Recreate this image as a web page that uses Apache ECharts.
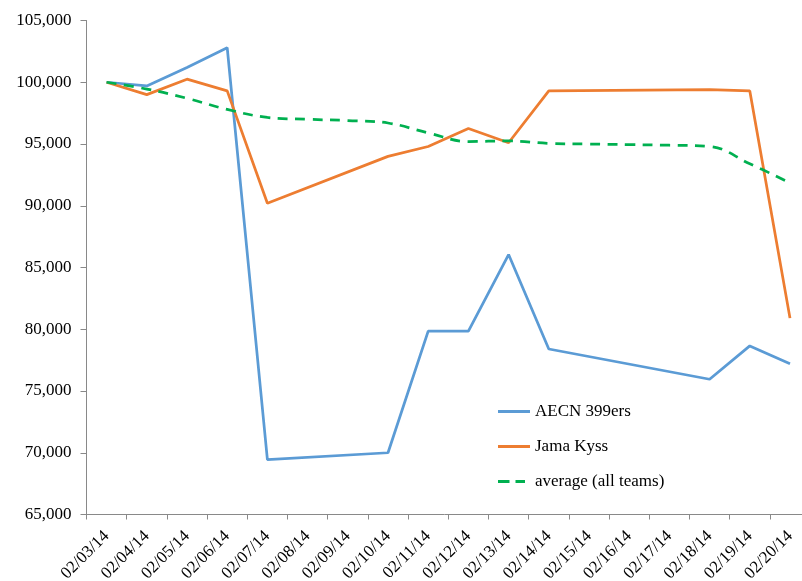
<!DOCTYPE html>
<html>
<head>
<meta charset="utf-8">
<script src="https://cdn.jsdelivr.net/npm/echarts@6/dist/echarts.min.js"></script>
<style>
  html, body { margin: 0; padding: 0; background: #fff; overflow: hidden; }
  #chart { width: 802px; height: 581px; }
</style>
</head>
<body>
<div id="chart"></div>
<script>
// Daily portfolio values, Feb 3 - Feb 20, 2014
const dates = ['02/03/14', '02/04/14', '02/05/14', '02/06/14', '02/07/14', '02/08/14',
  '02/09/14', '02/10/14', '02/11/14', '02/12/14', '02/13/14', '02/14/14', '02/15/14',
  '02/16/14', '02/17/14', '02/18/14', '02/19/14', '02/20/14'];

// null = no value recorded that day (line is carried straight across)
const aecn = [100000, 99700, 101200, 102800, 69450, null, null, 70000, 79850, 79850,
  86050, 78400, null, null, null, 75950, 78650, 77200];
const jama = [100000, 99000, 100250, 99300, 90200, null, null, 94000, 94800, 96250,
  95100, 99300, null, null, null, 99400, 99300, 80900];
const average = [100000, 99450, 98700, 97800, 97150, 97000, 96900, 96700, 95900, 95200,
  95250, 95050, 95000, 94950, 94900, 94800, 93400, 91850];

const seriesNames = ['AECN 399ers', 'Jama Kyss', 'average (all teams)'];
const yTicks = { min: 65000, max: 105000, step: 5000 };

const FONT = '"Liberation Serif", "Times New Roman", serif';
const AXIS_GRAY = '#898989';

// legend keys: plain stroke for the team lines, two dashes for the average
const SOLID_KEY = 'path://M0,0h32v3h-32z';
const DASH_KEY = 'path://M0,0h11.5v3h-11.5z M17.5,0h9.5v3h-9.5z M32,0L32,3';

const chart = echarts.init(document.getElementById('chart'), null, { renderer: 'canvas' });

chart.setOption({
  animation: false,
  backgroundColor: '#ffffff',
  // the plot area runs a little past the right edge of the canvas
  grid: {
    left: 86.5, top: 20.5, width: 723.6, height: 494,
    containLabel: false,
    outerBoundsMode: 'none'
  },
  legend: {
    orient: 'vertical',
    left: 498,
    top: 403,
    padding: 0,
    itemWidth: 32,
    itemHeight: 14,
    itemGap: 18,
    symbolKeepAspect: true,
    data: [
      { name: seriesNames[0], icon: SOLID_KEY },
      { name: seriesNames[1], icon: SOLID_KEY },
      { name: seriesNames[2], icon: DASH_KEY }
    ],
    textStyle: { fontFamily: FONT, fontSize: 17, color: '#000' }
  },
  xAxis: {
    type: 'category',
    data: dates,
    boundaryGap: true,
    axisLine: { lineStyle: { color: AXIS_GRAY, width: 1 } },
    axisTick: { show: true, length: 5, lineStyle: { color: AXIS_GRAY } },
    axisLabel: {
      interval: 0,
      rotate: 45,
      margin: 19,
      fontFamily: FONT,
      fontSize: 17,
      color: '#000'
    },
    splitLine: { show: false }
  },
  yAxis: {
    type: 'value',
    min: yTicks.min,
    max: yTicks.max,
    interval: yTicks.step,
    axisLine: { show: true, lineStyle: { color: AXIS_GRAY, width: 1 } },
    axisTick: { show: true, length: 6, lineStyle: { color: AXIS_GRAY } },
    axisLabel: {
      margin: 15,
      fontFamily: FONT,
      fontSize: 17,
      color: '#000',
      formatter: v => v.toLocaleString('en-US')
    },
    splitLine: { show: false }
  },
  series: [
    {
      name: seriesNames[0],
      type: 'line',
      data: aecn,
      connectNulls: true,
      symbol: 'none',
      lineStyle: { color: '#5B9BD5', width: 2.75 },
      itemStyle: { color: '#5B9BD5' }
    },
    {
      name: seriesNames[1],
      type: 'line',
      data: jama,
      connectNulls: true,
      symbol: 'none',
      lineStyle: { color: '#ED7D31', width: 2.75 },
      itemStyle: { color: '#ED7D31' }
    },
    {
      name: seriesNames[2],
      type: 'line',
      data: average,
      smooth: 0.4,
      symbol: 'none',
      lineStyle: { color: '#00B050', width: 2.75, type: [10, 7.5] },
      itemStyle: { color: '#00B050' }
    }
  ]
});
</script>
</body>
</html>
